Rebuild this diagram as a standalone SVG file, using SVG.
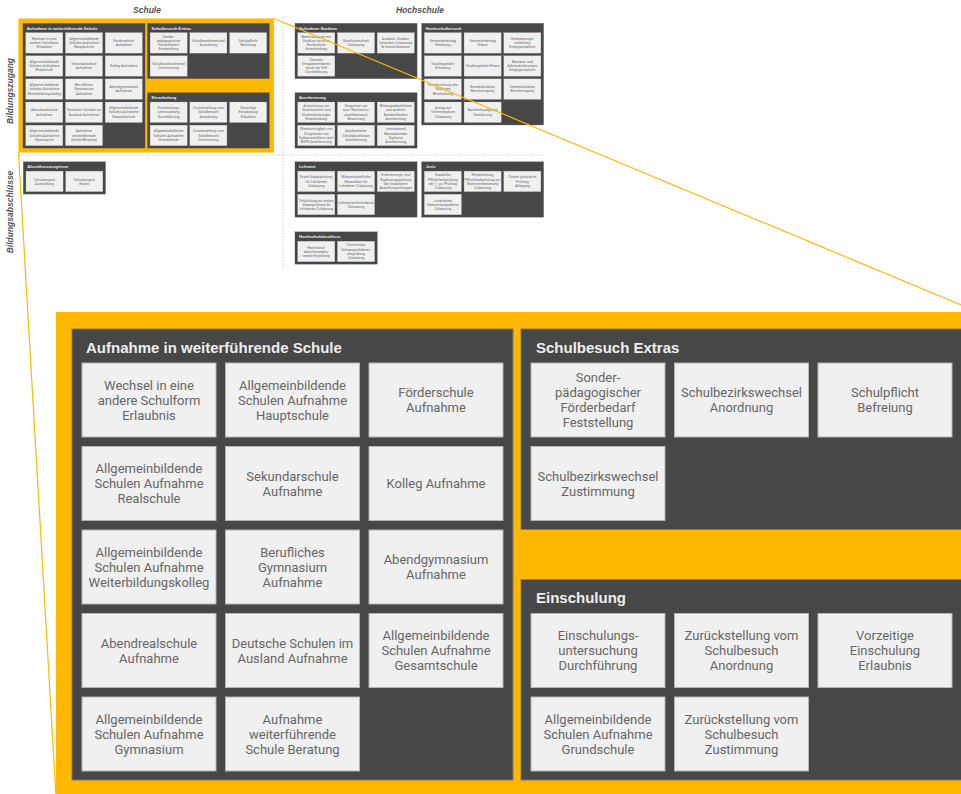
<svg xmlns="http://www.w3.org/2000/svg" xmlns:xlink="http://www.w3.org/1999/xlink" width="961" height="794" viewBox="0 0 961 794">
<style>
.o{fill:#FFB700}
.p{fill:#474747;stroke:#7a7a7a;stroke-width:1}
.c{fill:#F0F0F0;stroke:#b4b4b4;stroke-width:1}
.h{font-family:"Liberation Sans",Arial,sans-serif;font-weight:bold;font-size:15px;fill:#EEEEEE}
.t{font-family:Roboto,"Liberation Sans",sans-serif;font-size:13px;fill:#666666;text-anchor:middle}
.hd{font-family:"Liberation Sans",Arial,sans-serif;font-weight:bold;font-style:italic;font-size:8.5px;fill:#555555;text-anchor:middle}
.sep{stroke:#cccccc;stroke-width:1;stroke-dasharray:1.5 1.5;fill:none}
.zl{stroke:#FFB700;stroke-width:1.2;fill:none}
</style>
<rect width="961" height="794" fill="#ffffff"/>

<!-- big detail of Schule -->
<g transform="translate(56,312)">
<g id="schule">
<rect class="o" x="0" y="0" width="922" height="484"/>
<g id="p-aufnahme" transform="translate(16,17)">
<rect class="p" width="441" height="451"/>
<text class="h" x="14" y="24">Aufnahme in weiterführende Schule</text>
<g id="n-a1" transform="translate(10,34)"><rect class="c" width="134" height="74"/><text class="t" y="26.5"><tspan x="67">Wechsel in eine</tspan><tspan x="67" dy="15">andere Schulform</tspan><tspan x="67" dy="15">Erlaubnis</tspan></text></g>
<g id="n-a2" transform="translate(153.5,34)"><rect class="c" width="134" height="74"/><text class="t" y="26.5"><tspan x="67">Allgemeinbildende</tspan><tspan x="67" dy="15">Schulen Aufnahme</tspan><tspan x="67" dy="15">Hauptschule</tspan></text></g>
<g id="n-a3" transform="translate(297,34)"><rect class="c" width="134" height="74"/><text class="t" y="34"><tspan x="67">Förderschule</tspan><tspan x="67" dy="15">Aufnahme</tspan></text></g>
<g id="n-a4" transform="translate(10,117.5)"><rect class="c" width="134" height="74"/><text class="t" y="26.5"><tspan x="67">Allgemeinbildende</tspan><tspan x="67" dy="15">Schulen Aufnahme</tspan><tspan x="67" dy="15">Realschule</tspan></text></g>
<g id="n-a5" transform="translate(153.5,117.5)"><rect class="c" width="134" height="74"/><text class="t" y="34"><tspan x="67">Sekundarschule</tspan><tspan x="67" dy="15">Aufnahme</tspan></text></g>
<g id="n-a6" transform="translate(297,117.5)"><rect class="c" width="134" height="74"/><text class="t" y="41.5"><tspan x="67">Kolleg Aufnahme</tspan></text></g>
<g id="n-a7" transform="translate(10,201)"><rect class="c" width="134" height="74"/><text class="t" y="26.5"><tspan x="67">Allgemeinbildende</tspan><tspan x="67" dy="15">Schulen Aufnahme</tspan><tspan x="67" dy="15">Weiterbildungskolleg</tspan></text></g>
<g id="n-a8" transform="translate(153.5,201)"><rect class="c" width="134" height="74"/><text class="t" y="26.5"><tspan x="67">Berufliches</tspan><tspan x="67" dy="15">Gymnasium</tspan><tspan x="67" dy="15">Aufnahme</tspan></text></g>
<g id="n-a9" transform="translate(297,201)"><rect class="c" width="134" height="74"/><text class="t" y="34"><tspan x="67">Abendgymnasium</tspan><tspan x="67" dy="15">Aufnahme</tspan></text></g>
<g id="n-a10" transform="translate(10,284.5)"><rect class="c" width="134" height="74"/><text class="t" y="34"><tspan x="67">Abendrealschule</tspan><tspan x="67" dy="15">Aufnahme</tspan></text></g>
<g id="n-a11" transform="translate(153.5,284.5)"><rect class="c" width="134" height="74"/><text class="t" y="34"><tspan x="67">Deutsche Schulen im</tspan><tspan x="67" dy="15">Ausland Aufnahme</tspan></text></g>
<g id="n-a12" transform="translate(297,284.5)"><rect class="c" width="134" height="74"/><text class="t" y="26.5"><tspan x="67">Allgemeinbildende</tspan><tspan x="67" dy="15">Schulen Aufnahme</tspan><tspan x="67" dy="15">Gesamtschule</tspan></text></g>
<g id="n-a13" transform="translate(10,368)"><rect class="c" width="134" height="74"/><text class="t" y="26.5"><tspan x="67">Allgemeinbildende</tspan><tspan x="67" dy="15">Schulen Aufnahme</tspan><tspan x="67" dy="15">Gymnasium</tspan></text></g>
<g id="n-a14" transform="translate(153.5,368)"><rect class="c" width="134" height="74"/><text class="t" y="26.5"><tspan x="67">Aufnahme</tspan><tspan x="67" dy="15">weiterführende</tspan><tspan x="67" dy="15">Schule Beratung</tspan></text></g>
</g>
<g id="p-extras" transform="translate(465,17)">
<rect class="p" width="441" height="200.5"/>
<text class="h" x="15" y="24">Schulbesuch Extras</text>
<g id="n-e1" transform="translate(10,34)"><rect class="c" width="134" height="74"/><text class="t" y="19"><tspan x="67">Sonder-</tspan><tspan x="67" dy="15">pädagogischer</tspan><tspan x="67" dy="15">Förderbedarf</tspan><tspan x="67" dy="15">Feststellung</tspan></text></g>
<g id="n-e2" transform="translate(153.5,34)"><rect class="c" width="134" height="74"/><text class="t" y="34"><tspan x="67">Schulbezirkswechsel</tspan><tspan x="67" dy="15">Anordnung</tspan></text></g>
<g id="n-e3" transform="translate(297,34)"><rect class="c" width="134" height="74"/><text class="t" y="34"><tspan x="67">Schulpflicht</tspan><tspan x="67" dy="15">Befreiung</tspan></text></g>
<g id="n-e4" transform="translate(10,117.5)"><rect class="c" width="134" height="74"/><text class="t" y="34"><tspan x="67">Schulbezirkswechsel</tspan><tspan x="67" dy="15">Zustimmung</tspan></text></g>
</g>
<g id="p-einschulung" transform="translate(465,267.5)">
<rect class="p" width="441" height="200.5"/>
<text class="h" x="15" y="23">Einschulung</text>
<g id="n-s1" transform="translate(10,34)"><rect class="c" width="134" height="74"/><text class="t" y="26.5"><tspan x="67">Einschulungs-</tspan><tspan x="67" dy="15">untersuchung</tspan><tspan x="67" dy="15">Durchführung</tspan></text></g>
<g id="n-s2" transform="translate(153.5,34)"><rect class="c" width="134" height="74"/><text class="t" y="26.5"><tspan x="67">Zurückstellung vom</tspan><tspan x="67" dy="15">Schulbesuch</tspan><tspan x="67" dy="15">Anordnung</tspan></text></g>
<g id="n-s3" transform="translate(297,34)"><rect class="c" width="134" height="74"/><text class="t" y="26.5"><tspan x="67">Vorzeitige</tspan><tspan x="67" dy="15">Einschulung</tspan><tspan x="67" dy="15">Erlaubnis</tspan></text></g>
<g id="n-s4" transform="translate(10,117.5)"><rect class="c" width="134" height="74"/><text class="t" y="26.5"><tspan x="67">Allgemeinbildende</tspan><tspan x="67" dy="15">Schulen Aufnahme</tspan><tspan x="67" dy="15">Grundschule</tspan></text></g>
<g id="n-s5" transform="translate(153.5,117.5)"><rect class="c" width="134" height="74"/><text class="t" y="26.5"><tspan x="67">Zurückstellung vom</tspan><tspan x="67" dy="15">Schulbesuch</tspan><tspan x="67" dy="15">Zustimmung</tspan></text></g>
</g>
</g>
</g>

<!-- overview -->
<line class="sep" x1="20" y1="155" x2="545" y2="155"/>
<line class="sep" x1="283" y1="17" x2="283" y2="268"/>
<text class="hd" x="147" y="13">Schule</text>
<text class="hd" x="420" y="13">Hochschule</text>
<text class="hd" transform="translate(13,91) rotate(-90)">Bildungszugang</text>
<text class="hd" transform="translate(13,212) rotate(-90)">Bildungsabschlüsse</text>

<g id="overview" transform="translate(18.5,18.5) scale(0.277)">
<use xlink:href="#schule" href="#schule"/>

<g id="p-studium" transform="translate(998,17)">
<rect class="p" width="441" height="200.5"/>
<text class="h" x="15" y="24">Aufnahme Studium</text>
<g transform="translate(10,34)"><rect class="c" width="134" height="74"/><text class="t" y="19"><tspan x="67">Bewerbung um ein</tspan><tspan x="67" dy="15">Studium an einer</tspan><tspan x="67" dy="15">Hochschule</tspan><tspan x="67" dy="15">Entscheidung</tspan></text></g>
<g transform="translate(153.5,34)"><rect class="c" width="134" height="74"/><text class="t" y="34"><tspan x="67">Gasthörerschaft</tspan><tspan x="67" dy="15">Zulassung</tspan></text></g>
<g transform="translate(297,34)"><rect class="c" width="134" height="74"/><text class="t" y="26.5"><tspan x="67">Ausländ. Studien-</tspan><tspan x="67" dy="15">bewerber Zulassung</tspan><tspan x="67" dy="15">&amp; Immatrikulation</tspan></text></g>
<g transform="translate(10,117.5)"><rect class="c" width="134" height="74"/><text class="t" y="19"><tspan x="67">Zentrale</tspan><tspan x="67" dy="15">Vergabeverfahren</tspan><tspan x="67" dy="15">durch die SfH</tspan><tspan x="67" dy="15">Durchführung</tspan></text></g>
</g>

<g id="p-hsbesuch" transform="translate(1455,17)">
<rect class="p" width="441" height="367.5"/>
<text class="h" x="15" y="24">Hochschulbesuch</text>
<g transform="translate(10,34)"><rect class="c" width="134" height="74"/><text class="t" y="34"><tspan x="67">Semesterbeitrag</tspan><tspan x="67" dy="15">Erhebung</tspan></text></g>
<g transform="translate(153.5,34)"><rect class="c" width="134" height="74"/><text class="t" y="34"><tspan x="67">Semesterbeitrag</tspan><tspan x="67" dy="15">Erlass</tspan></text></g>
<g transform="translate(297,34)"><rect class="c" width="134" height="74"/><text class="t" y="26.5"><tspan x="67">Veränderungs-</tspan><tspan x="67" dy="15">mitteilung</tspan><tspan x="67" dy="15">Entgegennahme</tspan></text></g>
<g transform="translate(10,117.5)"><rect class="c" width="134" height="74"/><text class="t" y="34"><tspan x="67">Studiengebühr</tspan><tspan x="67" dy="15">Erhebung</tspan></text></g>
<g transform="translate(153.5,117.5)"><rect class="c" width="134" height="74"/><text class="t" y="41.5"><tspan x="67">Studiengebühr Erlass</tspan></text></g>
<g transform="translate(297,117.5)"><rect class="c" width="134" height="74"/><text class="t" y="26.5"><tspan x="67">Namens- und</tspan><tspan x="67" dy="15">Adressänderungen</tspan><tspan x="67" dy="15">Entgegennahme</tspan></text></g>
<g transform="translate(10,201)"><rect class="c" width="134" height="74"/><text class="t" y="26.5"><tspan x="67">Unterbrechung des</tspan><tspan x="67" dy="15">Studiums</tspan><tspan x="67" dy="15">Beurlaubung</tspan></text></g>
<g transform="translate(153.5,201)"><rect class="c" width="134" height="74"/><text class="t" y="34"><tspan x="67">Exmatrikulation</tspan><tspan x="67" dy="15">Bescheinigung</tspan></text></g>
<g transform="translate(297,201)"><rect class="c" width="134" height="74"/><text class="t" y="34"><tspan x="67">Immatrikulation</tspan><tspan x="67" dy="15">Bescheinigung</tspan></text></g>
<g transform="translate(10,284.5)"><rect class="c" width="134" height="74"/><text class="t" y="26.5"><tspan x="67">Antrag auf</tspan><tspan x="67" dy="15">Teilzeitstudium</tspan><tspan x="67" dy="15">Zulassung</tspan></text></g>
<g transform="translate(153.5,284.5)"><rect class="c" width="134" height="74"/><text class="t" y="34"><tspan x="67">Nachteilsausgleich</tspan><tspan x="67" dy="15">Gewährung</tspan></text></g>
</g>

<g id="p-anerkennung" transform="translate(998,267.5)">
<rect class="p" width="441" height="200.5"/>
<text class="h" x="15" y="24">Anerkennung</text>
<g transform="translate(10,34)"><rect class="c" width="134" height="74"/><text class="t" y="19"><tspan x="67">Anrechnung von</tspan><tspan x="67" dy="15">Studienzeiten und</tspan><tspan x="67" dy="15">Studienleistungen</tspan><tspan x="67" dy="15">Entscheidung</tspan></text></g>
<g transform="translate(153.5,34)"><rect class="c" width="134" height="74"/><text class="t" y="19"><tspan x="67">Zeugnisse von</tspan><tspan x="67" dy="15">ausl. Hochschul-</tspan><tspan x="67" dy="15">qualifikationen</tspan><tspan x="67" dy="15">Bewertung</tspan></text></g>
<g transform="translate(297,34)"><rect class="c" width="134" height="74"/><text class="t" y="19"><tspan x="67">Bildungsabschlüsse</tspan><tspan x="67" dy="15">aus anderen</tspan><tspan x="67" dy="15">Bundesländern</tspan><tspan x="67" dy="15">Anerkennung</tspan></text></g>
<g transform="translate(10,117.5)"><rect class="c" width="134" height="74"/><text class="t" y="19"><tspan x="67">Gleichwertigkeit von</tspan><tspan x="67" dy="15">Zeugnissen von</tspan><tspan x="67" dy="15">Spätaussiedlern nach</tspan><tspan x="67" dy="15">BVFG Anerkennung</tspan></text></g>
<g transform="translate(153.5,117.5)"><rect class="c" width="134" height="74"/><text class="t" y="26.5"><tspan x="67">Ausländische</tspan><tspan x="67" dy="15">Schulabschlüsse</tspan><tspan x="67" dy="15">Anerkennung</tspan></text></g>
<g transform="translate(297,117.5)"><rect class="c" width="134" height="74"/><text class="t" y="19"><tspan x="67">International</tspan><tspan x="67" dy="15">Baccalaureate</tspan><tspan x="67" dy="15">Diploma</tspan><tspan x="67" dy="15">Anerkennung</tspan></text></g>
</g>

<g id="p-abschlusszeugnisse" transform="translate(17,517)">
<rect class="p" width="297.5" height="117"/>
<text class="h" x="15" y="24">Abschlusszeugnisse</text>
<g transform="translate(10,34)"><rect class="c" width="134" height="74"/><text class="t" y="34"><tspan x="67">Schulzeugnis</tspan><tspan x="67" dy="15">Ausstellung</tspan></text></g>
<g transform="translate(153.5,34)"><rect class="c" width="134" height="74"/><text class="t" y="34"><tspan x="67">Schulzeugnis</tspan><tspan x="67" dy="15">Ersatz</tspan></text></g>
</g>

<g id="p-lehramt" transform="translate(998,517)">
<rect class="p" width="441" height="200.5"/>
<text class="h" x="15" y="24">Lehramt</text>
<g transform="translate(10,34)"><rect class="c" width="134" height="74"/><text class="t" y="26.5"><tspan x="67">Erste Staatsprüfung</tspan><tspan x="67" dy="15">für Lehrämter</tspan><tspan x="67" dy="15">Zulassung</tspan></text></g>
<g transform="translate(153.5,34)"><rect class="c" width="134" height="74"/><text class="t" y="26.5"><tspan x="67">Wissenschaftliche</tspan><tspan x="67" dy="15">Hausarbeit für</tspan><tspan x="67" dy="15">Lehrämter Zulassung</tspan></text></g>
<g transform="translate(297,34)"><rect class="c" width="134" height="74"/><text class="t" y="19"><tspan x="67">Erweiterungs- und</tspan><tspan x="67" dy="15">Ergänzungsprüfung</tspan><tspan x="67" dy="15">der Staatlichen</tspan><tspan x="67" dy="15">Abschlussprüfungen</tspan></text></g>
<g transform="translate(10,117.5)"><rect class="c" width="134" height="74"/><text class="t" y="26.5"><tspan x="67">Teilprüfung zur ersten</tspan><tspan x="67" dy="15">Staatsprüfung für</tspan><tspan x="67" dy="15">Lehrämter Zulassung</tspan></text></g>
<g transform="translate(153.5,117.5)"><rect class="c" width="134" height="74"/><text class="t" y="34"><tspan x="67">Lehramtsreferendariat</tspan><tspan x="67" dy="15">Zulassung</tspan></text></g>
</g>

<g id="p-juris" transform="translate(1455,517)">
<rect class="p" width="441" height="200.5"/>
<text class="h" x="15" y="24">Juris</text>
<g transform="translate(10,34)"><rect class="c" width="134" height="74"/><text class="t" y="19"><tspan x="67">Staatliche</tspan><tspan x="67" dy="15">Pflichtfachprüfung</tspan><tspan x="67" dy="15">der 1. jur. Prüfung</tspan><tspan x="67" dy="15">Zulassung</tspan></text></g>
<g transform="translate(153.5,34)"><rect class="c" width="134" height="74"/><text class="t" y="19"><tspan x="67">Wiederholung</tspan><tspan x="67" dy="15">Pflichtfachprüfung zur</tspan><tspan x="67" dy="15">Notenverbesserung</tspan><tspan x="67" dy="15">Zulassung</tspan></text></g>
<g transform="translate(297,34)"><rect class="c" width="134" height="74"/><text class="t" y="26.5"><tspan x="67">Zweite juristische</tspan><tspan x="67" dy="15">Prüfung</tspan><tspan x="67" dy="15">Ablegung</tspan></text></g>
<g transform="translate(10,117.5)"><rect class="c" width="134" height="74"/><text class="t" y="26.5"><tspan x="67">Juristischer</tspan><tspan x="67" dy="15">Vorbereitungsdienst</tspan><tspan x="67" dy="15">Zulassung</tspan></text></g>
</g>

<g id="p-hsabschluss" transform="translate(998,770)">
<rect class="p" width="297.5" height="117"/>
<text class="h" x="15" y="24">Hochschulabschluss</text>
<g transform="translate(10,34)"><rect class="c" width="134" height="74"/><text class="t" y="26.5"><tspan x="67">Hochschul-</tspan><tspan x="67" dy="15">abschlussdoku-</tspan><tspan x="67" dy="15">mente Erstellung</tspan></text></g>
<g transform="translate(153.5,34)"><rect class="c" width="134" height="74"/><text class="t" y="19"><tspan x="67">Universitäre</tspan><tspan x="67" dy="15">Schwerpunktberei-</tspan><tspan x="67" dy="15">chsprüfung</tspan><tspan x="67" dy="15">Zulassung</tspan></text></g>
</g>
</g>

<g id="connectors">
<line class="zl" x1="274" y1="18.5" x2="978" y2="312"/>
<line class="zl" x1="18.5" y1="152.5" x2="56" y2="796"/>
</g>
</svg>
